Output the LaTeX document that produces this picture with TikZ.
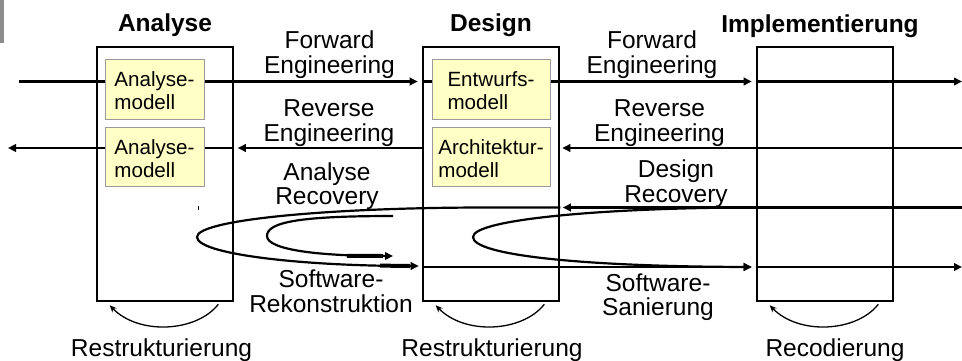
\documentclass[tikz,border=0pt]{standalone}
\usepackage{fontspec}
\setmainfont{Liberation Sans}
\usetikzlibrary{arrows.meta,calc}
\definecolor{modelfill}{HTML}{FFFFC6}
\definecolor{modeledge}{HTML}{9A9A9A}
\definecolor{barcol}{HTML}{8C8C8C}
% strut that gives the first line of a model box a little more head room
\newcommand{\mstrut}{\rule{0pt}{19pt}}
\tikzset{
  phase/.style={draw=black, line width=2.6pt, minimum width=136pt, minimum height=254pt, inner sep=0pt},
  model/.style={draw=modeledge, fill=modelfill, line width=0.8pt, inner sep=0pt,
    font=\fontsize{20.6}{23}\selectfont, align=left},
  hdr/.style={font=\bfseries\fontsize{24.5}{24.5}\selectfont, inner sep=0pt, anchor=base},
  lbl/.style={font=\fontsize{24.5}{24.5}\selectfont, align=center, inner sep=0pt, anchor=base},
  wire/.style={line width=2.2pt, draw=black},
  flow/.style={wire, -{Triangle[length=8pt,width=7.5pt]}},
  tail/.style={line width=4pt, draw=black},
  selfarr/.style={line width=1.3pt, -{Stealth[length=7pt,width=6pt]}},
}
\begin{document}
\begin{tikzpicture}[x=1pt,y=-1pt]
\useasboundingbox (0,0) rectangle (962,360);
\fill[barcol] (0,0) rectangle (4,43);

% phase boxes (placed first so connectors can refer to them)
\path (165,174) node[phase] (ana) {}
      (491,174) node[phase] (des) {}
      (825,174) node[phase] (imp) {};

% free ends of the long connectors
\coordinate (fwdin)  at (19,81.5);
\coordinate (fwdout) at (962,81.5);
\coordinate (revin)  at (962,148);
\coordinate (revout) at (8,148);
\coordinate (recin)  at (962,207.5);
\coordinate (ssout)  at (962,267);
\coordinate (srend)  at (0,266);
\coordinate (inA)    at (393,216);
\coordinate (inB)    at (393,256);

% forward engineering
\draw[flow, shorten >=4pt] (fwdin) -- (des.west |- fwdin);
\draw[flow, shorten >=4pt] (des.west |- fwdin) -- (imp.west |- fwdin);
\draw[flow] (imp.west |- fwdin) -- (fwdout);

% reverse engineering
\draw[flow, shorten >=2pt] (revin) -- (des.east |- revin);
\draw[flow, shorten >=3.5pt] (des.west |- revin) -- (ana.east |- revin);
\draw[flow] (ana.east |- revin) -- (revout);

% recovery and reengineering loops
\draw[wire] (recin) -- (imp.west |- recin);
\draw[flow, shorten >=2.5pt] (imp.west |- recin) -- (des.east |- recin);
\draw[flow, shorten >=3pt] (des.east |- recin) -- (487,207.5)
   .. controls (327,207.5) and (197,220) .. (197,237)
   .. controls (197,254) and (300,266) .. (des.west |- srend);
\draw[tail] (380,265.6) -- (410,266);
\draw[flow] (inA) .. controls (300,216) and (267,222) .. (267,236)
   .. controls (267,250) and (320,256) .. (inB);
\draw[tail] (347,255.8) -- (383,256);
\draw[flow, shorten >=4pt] (imp.west |- recin) .. controls (610,207.5) and (473,219) .. (473,237)
   .. controls (473,255) and (580,266.5) .. (imp.west |- ssout);
\draw[flow, shorten >=4pt] (des.west |- ssout) -- (imp.west |- ssout);
\draw[flow] (imp.west |- ssout) -- (ssout);
\draw[line width=0.8pt] (198,206) -- (198,209.5);

% redraw the box frames over the connectors
\path (165,174) node[phase] {}
      (491,174) node[phase] {}
      (825,174) node[phase] {};

% models
\node[model, minimum width=99pt, minimum height=60pt] (am1) at (154.5,89) {\mstrut Analyse-\\modell};
\node[model, minimum width=99pt, minimum height=59pt] (am2) at (154.5,156.5) {\mstrut Analyse-\\modell};
\node[model, minimum width=118pt, minimum height=60pt] (em) at (491,89) {\mstrut Entwurfs-\\modell};
\node[model, minimum width=118pt, minimum height=59pt] (km) at (491,156.5) {\mstrut Architektur-\\modell};

% headings
\node[hdr] (hA) at (165,31.5) {Analyse};
\node[hdr] (hD) at (491,31.5) {Design};
\node[hdr] (hI) at (820,32) {Implementierung};

% connector labels (anchored at the baseline of their last line)
\node[lbl] (fe1) at (329.5,73) {Forward\\Engineering};
\node[lbl] (re1) at (329,141) {Reverse\\Engineering};
\node[lbl] (ar)  at (327,204.5) {Analyse\\Recovery};
\node[lbl] (fe2) at (652,73) {Forward\\Engineering};
\node[lbl] (re2) at (659.5,141) {Reverse\\Engineering};
\node[lbl] (dr)  at (676,202) {Design\\Recovery};
\node[lbl] (sr)  at (331,312) {Software-\\Rekonstruktion};
\node[lbl] (ss)  at (658,315.5) {Software-\\Sanierung};

% self loops below the boxes
\draw[selfarr] ([shift={(-16,2)}]ana.south east) .. controls +(-22,28) and +(29,30) .. ([shift={(14,3)}]ana.south west);
\draw[selfarr] ([shift={(-16,2)}]des.south east) .. controls +(-22,28) and +(29,30) .. ([shift={(14,3)}]des.south west);
\draw[selfarr] ([shift={(-16,2)}]imp.south east) .. controls +(-22,28) and +(29,30) .. ([shift={(14,3)}]imp.south west);

\node[lbl] (rs1) at (161.5,356.5) {Restrukturierung};
\node[lbl] (rs2) at (492,356.5) {Restrukturierung};
\node[lbl] (rc)  at (835,356) {Recodierung};
\end{tikzpicture}
\end{document}
